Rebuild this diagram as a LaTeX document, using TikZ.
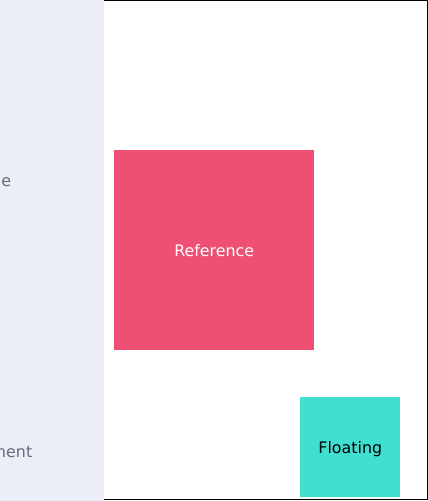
\documentclass[tikz,border=0pt]{standalone}
\usepackage{fontspec}
\setmainfont{DejaVu Sans}
\definecolor{panelbg}{RGB}{235,238,247}
\definecolor{panelink}{RGB}{100,107,122}
\definecolor{refpink}{RGB}{238,79,114}
\definecolor{floatteal}{RGB}{64,224,208}

\begin{document}
\begin{tikzpicture}[x=0.75pt, y=-0.75pt,
  every node/.style={font=\fontsize{11.9}{14}\selectfont},
  sq/.style={rectangle, inner sep=0pt, anchor=north west,
             minimum width=#1*0.75pt, minimum height=#1*0.75pt},
  refbox/.style={sq=200, fill=refpink, text=white},
  floatbox/.style={sq=100, fill=floatteal, text=black},
  cutlabel/.style={inner sep=0pt, text=panelink},
]
\useasboundingbox (0,0) rectangle (428,501);
\clip (0,0) rectangle (428,501);

%% side panel
\fill[panelbg] (0,0) rectangle (104,501);
\node[cutlabel, anchor=east] (lbltop) at (11.5,182) {e};
\node[cutlabel, anchor=east] (lblbot) at (32.5,452) {ment};

%% frame
\draw[line width=0.9pt] (104,0.6) -- (427.4,0.6) -- (427.4,499.4) -- (104,499.4);

%% boxes
\node[refbox]   (ref)  at (114,150) {};
\node[text=white, yshift=-0.5pt] (reflbl) at (ref.center) {Reference};
\node[floatbox] (flt)  at (300,397) {};
\node[text=black, yshift=-1.5pt] (fltlbl) at (flt.center) {Floating};

\end{tikzpicture}
\end{document}
